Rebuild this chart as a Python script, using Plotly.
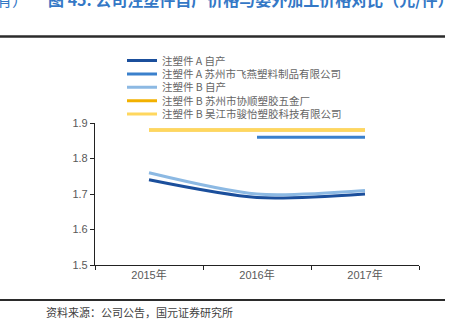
import plotly.graph_objects as go

years = ["2015年", "2016年", "2017年"]
a_self = [1.74, 1.69, 1.70]
a_feiyan = [None, 1.86, 1.86]
b_self = [1.76, 1.70, 1.71]
b_xieshun = [1.88, 1.88, 1.88]
b_junyi = [1.88, 1.88, 1.88]

names = [
    "注塑件 A 自产",
    "注塑件 A 苏州市飞燕塑料制品有限公司",
    "注塑件 B 自产",
    "注塑件 B 苏州市协顺塑胶五金厂",
    "注塑件 B 吴江市骏怡塑胶科技有限公司",
]
series = [a_self, a_feiyan, b_self, b_xieshun, b_junyi]
colors = ["#1B4F9C", "#3A80CC", "#8CB9E3", "#F2B100", "#FFD75E"]
shapes_ = ["spline", "linear", "spline", "linear", "linear"]

W, H = 457, 326
L, R, T, B = 95, 38, 123, 61
PW = W - L - R
ph = H - T - B

def py(p):
    return 1 + (T - p) / ph

def px(p):
    return (p - L) / PW

fig = go.Figure()
legends = {}
for i, (n, s, c, sh) in enumerate(zip(names, series, colors, shapes_)):
    key = "legend" if i == 0 else f"legend{i + 1}"
    fig.add_trace(go.Scatter(x=years, y=s, name=n, mode="lines", legend=key,
                             line=dict(color=c, width=3, shape=sh, smoothing=0.8)))
    legends[key] = dict(x=px(122), y=py(60.5 + 13.4 * i), xanchor="left", yanchor="middle",
                        bgcolor="rgba(0,0,0,0)", itemwidth=30,
                        font=dict(size=10.5, color="#666666"))

fig.update_layout(
    width=W, height=H,
    margin=dict(l=L, r=R, t=T, b=B, autoexpand=False),
    paper_bgcolor="white", plot_bgcolor="white",
    font=dict(family="Noto Sans CJK SC, Liberation Sans, sans-serif", color="#595959", size=11),
    showlegend=True,
    xaxis=dict(type="category", range=[-0.5, 2.5], showgrid=False,
               showline=True, linecolor="#222", linewidth=1.2,
               ticks="outside", tickson="boundaries", ticklen=4, tickcolor="#222",
               tickangle=0,
               tickfont=dict(family="Liberation Sans, Noto Sans CJK SC", size=11, color="#595959")),
    yaxis=dict(range=[1.5, 1.9], dtick=0.1, tickformat=".1f", showgrid=False,
               showline=True, linecolor="#222", linewidth=1.2,
               ticks="outside", ticklen=4, tickcolor="#222", zeroline=False,
               tickfont=dict(family="Liberation Sans", size=11, color="#595959")),
    **legends,
)

fig.add_shape(type="line", xref="paper", yref="paper",
              x0=px(0), x1=px(445), y0=py(36.5), y1=py(36.5),
              line=dict(color="#2b2b2b", width=2.5))
fig.add_shape(type="line", xref="paper", yref="paper",
              x0=px(0), x1=px(445), y0=py(300), y1=py(300),
              line=dict(color="#2b2b2b", width=2))
fig.add_annotation(xref="paper", yref="paper", x=px(44), y=py(312),
                   xanchor="left", yanchor="middle", showarrow=False,
                   text="资料来源：公司公告，国元证券研究所",
                   font=dict(family="Noto Sans CJK SC", size=11, color="#404040"))
fig.add_annotation(xref="paper", yref="paper", x=px(46), y=py(-1),
                   xanchor="left", yanchor="middle", showarrow=False,
                   text="<b>图 45: 公司注塑件自产价格与委外加工价格对比（元/件）</b>",
                   font=dict(family="Noto Sans CJK SC", size=16, color="#3478C6"))
fig.add_annotation(xref="paper", yref="paper", x=px(-6), y=py(-1),
                   xanchor="left", yanchor="middle", showarrow=False,
                   text="有）",
                   font=dict(family="Noto Sans CJK SC", size=16, color="#3478C6"))

fig.write_html("out.html")
